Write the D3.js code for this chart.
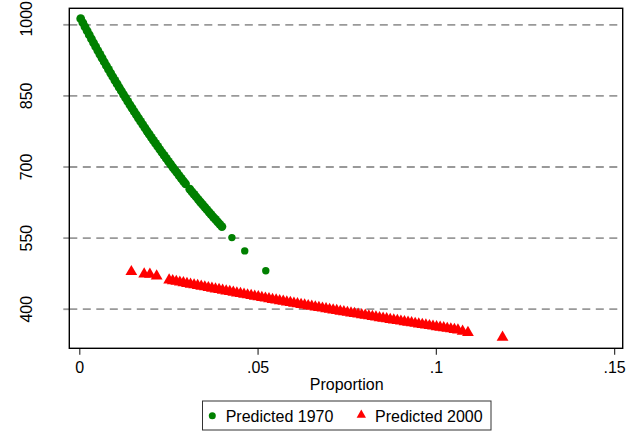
<!DOCTYPE html>
<html lang="en">

<head>
  <meta charset="UTF-8" />
  <title>Predicted 1970 vs 2000</title>
  <script src="https://d3js.org/d3.v7.min.js"></script>
  <style>
    * {
      margin: 0;
      padding: 0;
      box-sizing: border-box;
    }

    body {
      background: #fff;
      font-family: "Liberation Sans", Arial, sans-serif;
    }

    .grid line {
      stroke: #999;
      stroke-width: 1.8;
      stroke-dasharray: 8 5.5;
    }

    .grid path {
      display: none;
    }
  </style>
</head>

<body>
  <script>
    // series
    const green70X = [.0004, .0010, .0016, .0022, .0028, .0034, .0040, .0046, .0052, .0058, .0064, .0070, .0076, .0082, .0088, .0094,
      .0100, .0106, .0112, .0118, .0124, .0130, .0136, .0142, .0148, .0154, .0160, .0166, .0172, .0178, .0184, .0190, .0196,
      .0202, .0208, .0214, .0220, .0226, .0232, .0238, .0244, .0250, .0256, .0262, .0268, .0274, .0280, .0286, .0292, .0298,
      .0310, .0316, .0322, .0328, .0334, .0340, .0346, .0352, .0358, .0364, .0370, .0376, .0382, .0388, .0394, .0400,
      .0428, .0464, .0523];
    const green70Y = [1012.0, 1003.3, 994.7, 986.2, 977.7, 969.3, 961.0, 952.8, 944.6, 936.5, 928.5, 920.5, 912.6, 904.8, 897.1, 889.4,
      881.7, 874.2, 866.7, 859.3, 851.9, 844.6, 837.4, 830.2, 823.1, 816.0, 809.0, 802.1, 795.2, 788.4, 781.6, 774.9, 768.3,
      761.7, 755.1, 748.7, 742.3, 735.9, 729.6, 723.3, 717.1, 711.0, 704.9, 698.8, 692.8, 686.9, 681.0, 675.2, 669.4, 663.6,
      652.3, 646.7, 641.2, 635.7, 630.2, 624.8, 619.5, 614.2, 608.9, 603.7, 598.5, 593.4, 588.3, 583.2, 578.2, 573.3,
      550.0, 522.0, 480.0];

    const red00X = [.0146, .0182, .0198, .0217,
      .0252, .0262, .0272, .0282, .0292, .0302, .0312, .0322, .0332, .0342, .0352, .0362, .0372, .0382, .0392, .0402,
      .0412, .0422, .0432, .0442, .0452, .0462, .0472, .0482, .0492, .0502, .0512, .0522, .0532, .0542, .0552, .0562,
      .0572, .0582, .0592, .0602, .0612, .0622, .0632, .0642, .0652, .0662, .0672, .0682, .0692, .0702, .0712, .0722,
      .0732, .0742, .0752, .0762, .0772, .0782, .0792, .0802, .0812, .0822, .0832, .0842, .0852, .0862, .0872, .0882,
      .0892, .0902, .0912, .0922, .0932, .0942, .0952, .0962, .0972, .0982, .0992, .1002, .1012, .1022, .1032, .1042,
      .1052, .1062, .1075, .1090, .1187];
    const red00Y = [478.1, 473.2, 472.6, 469.0,
      460.4, 458.9, 457.5, 456.0, 454.5, 453.1, 451.6, 450.2, 448.7, 447.3, 445.9, 444.4, 443.0, 441.6, 440.2, 438.8,
      437.4, 436.0, 434.6, 433.2, 431.8, 430.4, 429.0, 427.6, 426.3, 424.9, 423.5, 422.2, 420.8, 419.5, 418.1, 416.8,
      415.5, 414.1, 412.8, 411.5, 410.2, 408.9, 407.5, 406.2, 404.9, 403.6, 402.3, 401.1, 399.8, 398.5, 397.2, 395.9,
      394.7, 393.4, 392.1, 390.9, 389.6, 388.4, 387.1, 385.9, 384.7, 383.4, 382.2, 381.0, 379.8, 378.5, 377.3, 376.1,
      374.9, 373.7, 372.5, 371.3, 370.1, 368.9, 367.8, 366.6, 365.4, 364.2, 363.1, 361.9, 360.8, 359.6, 358.4, 357.3,
      356.1, 355.0, 352.5, 349.5, 339.7];

    const xTicks = [0, .05, .1, .15];
    const yTicks = [400, 550, 700, 850, 1000];
    const seriesNames = ['Predicted 1970', 'Predicted 2000'];
    const seriesColors = ['#008000', '#ff0000'];

    //constants
    const [W, H] = [635, 439];
    const margin = { top: 8.3, right: 12.3, bottom: 90.7, left: 69.3 };
    const plotW = W - margin.left - margin.right;
    const plotH = H - margin.top - margin.bottom;

    const svg = d3.select('body')
      .append('svg')
      .attr('width', W)
      .attr('height', H)
      .style('display', 'block');

    const xScale = d3.scaleLinear()
      .domain([-0.0028, 0.1524])
      .range([margin.left, margin.left + plotW]);

    const yScale = d3.scaleLinear()
      .domain([316.5, 1033.8])
      .range([margin.top + plotH, margin.top]);

    // stata-ish labels: ".05" not "0.05"
    const fmtX = d => d === 0 ? '0' : String(d).replace(/^0/, '');

    //dashed gridlines
    svg.append('g')
      .attr('class', 'grid')
      .attr('transform', `translate(${margin.left}, 0)`)
      .call(d3.axisLeft(yScale).tickValues(yTicks).tickSize(-plotW).tickFormat(''));

    //y axis, labels turned on their side
    const yAxisG = svg.append('g')
      .attr('transform', `translate(${margin.left}, 0)`)
      .call(d3.axisLeft(yScale).tickValues(yTicks).tickSize(6).tickPadding(0).tickFormat(d3.format('d')));
    yAxisG.select('.domain').remove();
    yAxisG.selectAll('.tick line').attr('stroke', '#999').attr('stroke-width', 1.8);
    yAxisG.selectAll('.tick text')
      .attr('transform', 'rotate(-90)')
      .attr('x', d => d === 1000 ? 6 : 0)
      .attr('y', -37)
      .attr('dy', 0)
      .attr('text-anchor', 'middle')
      .attr('fill', '#000')
      .style('font-family', '"Liberation Sans", Arial, sans-serif')
      .style('font-size', '16px');

    //x axis
    const xAxisG = svg.append('g')
      .attr('transform', `translate(0, ${margin.top + plotH})`)
      .call(d3.axisBottom(xScale).tickValues(xTicks).tickSize(6.5).tickFormat(fmtX));
    xAxisG.select('.domain').remove();
    xAxisG.selectAll('.tick line').attr('stroke', '#333').attr('stroke-width', 1.2);
    xAxisG.selectAll('.tick text')
      .attr('y', 24.4)
      .attr('dy', 0)
      .attr('fill', '#000')
      .style('font-family', '"Liberation Sans", Arial, sans-serif')
      .style('font-size', '16px');

    svg.append('text')
      .attr('x', xScale(0.075))
      .attr('y', 389.5)
      .attr('text-anchor', 'middle')
      .style('font-size', '16px')
      .text('Proportion');

    //points
    const green = green70X.map((x, i) => ({ x, y: green70Y[i] }));
    const red = red00X.map((x, i) => ({ x, y: red00Y[i] }));

    svg.append('g')
      .selectAll('circle')
      .data(green)
      .join('circle')
      .attr('cx', d => xScale(d.x))
      .attr('cy', d => yScale(d.y))
      .attr('r', (d, i) => i < green.length - 3 ? 4.4 : 3.7)
      .attr('fill', seriesColors[0]);

    const tri = d3.symbol(d3.symbolTriangle, 60);
    svg.append('g')
      .selectAll('path')
      .data(red)
      .join('path')
      .attr('d', tri)
      .attr('transform', d => `translate(${xScale(d.x)}, ${yScale(d.y)})`)
      .attr('fill', seriesColors[1]);

    //frame
    svg.append('rect')
      .attr('x', margin.left)
      .attr('y', margin.top)
      .attr('width', plotW)
      .attr('height', plotH)
      .attr('fill', 'none')
      .attr('stroke', '#000')
      .attr('stroke-width', 1.4);

    //legend
    const legend = svg.append('g');
    legend.append('rect')
      .attr('x', 202.5)
      .attr('y', 401)
      .attr('width', 288.5)
      .attr('height', 29)
      .attr('fill', '#fff')
      .attr('stroke', '#333')
      .attr('stroke-width', 1);

    const legX = [212.3, 361.3];
    const legTextX = [225.7, 375];
    legend.append('circle')
      .attr('cx', legX[0])
      .attr('cy', 415.7)
      .attr('r', 3.5)
      .attr('fill', seriesColors[0]);
    legend.append('path')
      .attr('d', d3.symbol(d3.symbolTriangle, 38))
      .attr('transform', `translate(${legX[1]}, 415)`)
      .attr('fill', seriesColors[1]);
    legend.selectAll('text')
      .data(seriesNames)
      .join('text')
      .attr('x', (d, i) => legTextX[i])
      .attr('y', 422.3)
      .style('font-size', '16px')
      .text(d => d);
  </script>
</body>

</html>
